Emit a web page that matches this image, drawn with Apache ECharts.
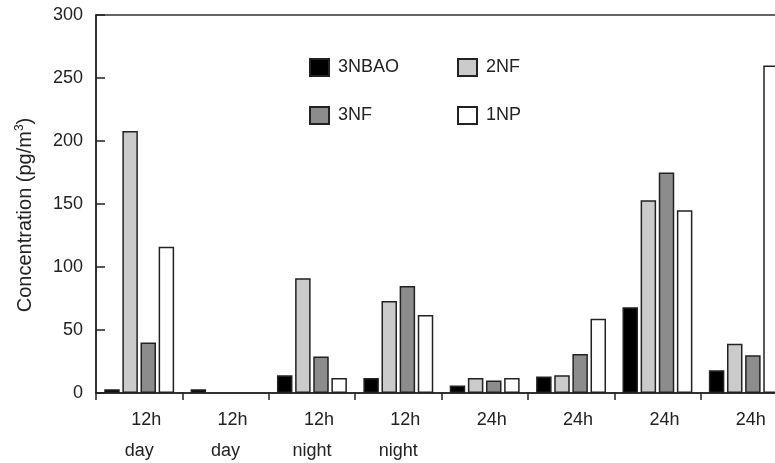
<!DOCTYPE html>
<html>
<head>
<meta charset="utf-8">
<script src="https://cdn.jsdelivr.net/npm/echarts@6/dist/echarts.min.js"></script>
<style>
html,body{margin:0;padding:0;background:#fff;}
#chart{width:775px;height:463px;}
</style>
</head>
<body>
<div id="chart"></div>
<script>
// ---- data ----
const timeLabels = ['12h', '12h', '12h', '12h', '24h', '24h', '24h', '24h'];
const periodLabels = ['day', 'day', 'night', 'night', '', '', '', ''];
const seriesNames = ['3NBAO', '2NF', '3NF', '1NP'];
const v3NBAO = [3, 3, 14, 12, 6, 13, 68, 18];
const v2NF   = [208, '-', 91, 73, 12, 14, 153, 39];
const v3NF   = [40, '-', 29, 85, 10, 31, 175, 30];
const v1NP   = [116, '-', 12, 62, 12, 59, 145, 260];
const yTicks = [0, 50, 100, 150, 200, 250, 300];

const categories = timeLabels.map((t, i) => i + '');
const values = [v3NBAO, v2NF, v3NF, v1NP];
const colors = ['#000000', '#cbcbcb', '#8c8c8c', '#ffffff'];

const FONT = 'Liberation Sans, Arial, sans-serif';
const TXT = '#222';

const chart = echarts.init(document.getElementById('chart'), null, {renderer: 'canvas'});

const series = seriesNames.map((name, k) => ({
  name: name,
  type: 'bar',
  data: values[k],
  barWidth: 15.5,
  barGap: '17%',
  itemStyle: {color: colors[k], borderColor: '#222', borderWidth: 1.5},
  emphasis: {disabled: true},
  animation: false
}));

const legendPos = [
  {left: 309, top: 58},
  {left: 457, top: 58},
  {left: 309, top: 106},
  {left: 457, top: 106}
];

const option = {
  animation: false,
  grid: {left: 96, top: 15, height: 378, width: 691, outerBoundsMode: 'none', containLabel: false,
         show: true, borderColor: '#333', borderWidth: 1.5, backgroundColor: 'transparent'},
  legend: seriesNames.map((n, k) => ({
    data: [n],
    left: legendPos[k].left,
    top: legendPos[k].top,
    padding: 0,
    icon: 'rect',
    itemWidth: 19,
    itemHeight: 17,
    selectedMode: false,
    textStyle: {fontFamily: FONT, fontSize: 18, color: TXT, padding: [0, 0, 0, 4]}
  })),
  xAxis: {
    type: 'category',
    data: categories,
    boundaryGap: true,
    axisLine: {lineStyle: {color: '#222', width: 1.5}},
    axisTick: {show: true, length: 7, lineStyle: {color: '#222', width: 1.5}},
    axisLabel: {
      interval: 0,
      margin: 12,
      hideOverlap: false,
      formatter: function (v, i) {
        const p = periodLabels[i];
        return p ? '{a|' + timeLabels[i] + '}\n{b|' + p + '}' : '{a|' + timeLabels[i] + '}';
      },
      rich: {
        a: {fontFamily: FONT, fontSize: 18, color: TXT, lineHeight: 31, padding: [0, 0, 0, 14]},
        b: {fontFamily: FONT, fontSize: 18, color: TXT, lineHeight: 31}
      }
    },
    splitLine: {show: false}
  },
  yAxis: {
    type: 'value',
    min: 0,
    max: 300,
    interval: 50,
    name: 'Concentration (pg/m{sup|3})',
    nameLocation: 'middle',
    nameGap: 60,
    nameRotate: 90,
    nameTextStyle: {
      fontFamily: FONT, fontSize: 20, color: TXT, padding: [0, 22, 0, 0],
      rich: {sup: {fontFamily: FONT, fontSize: 12, color: TXT, verticalAlign: 'top', padding: [0, 0, 10, 0]}}
    },
    axisLine: {show: true, lineStyle: {color: '#222', width: 1.5}},
    axisTick: {show: true, inside: true, length: 9, lineStyle: {color: '#222', width: 1.5}},
    axisLabel: {
      margin: 13, fontFamily: FONT, fontSize: 18, color: TXT,
      formatter: function (v) { return yTicks.indexOf(v) >= 0 ? String(v) : ''; }
    },
    splitLine: {show: false}
  },
  series: series
};

chart.setOption(option);
</script>
</body>
</html>
